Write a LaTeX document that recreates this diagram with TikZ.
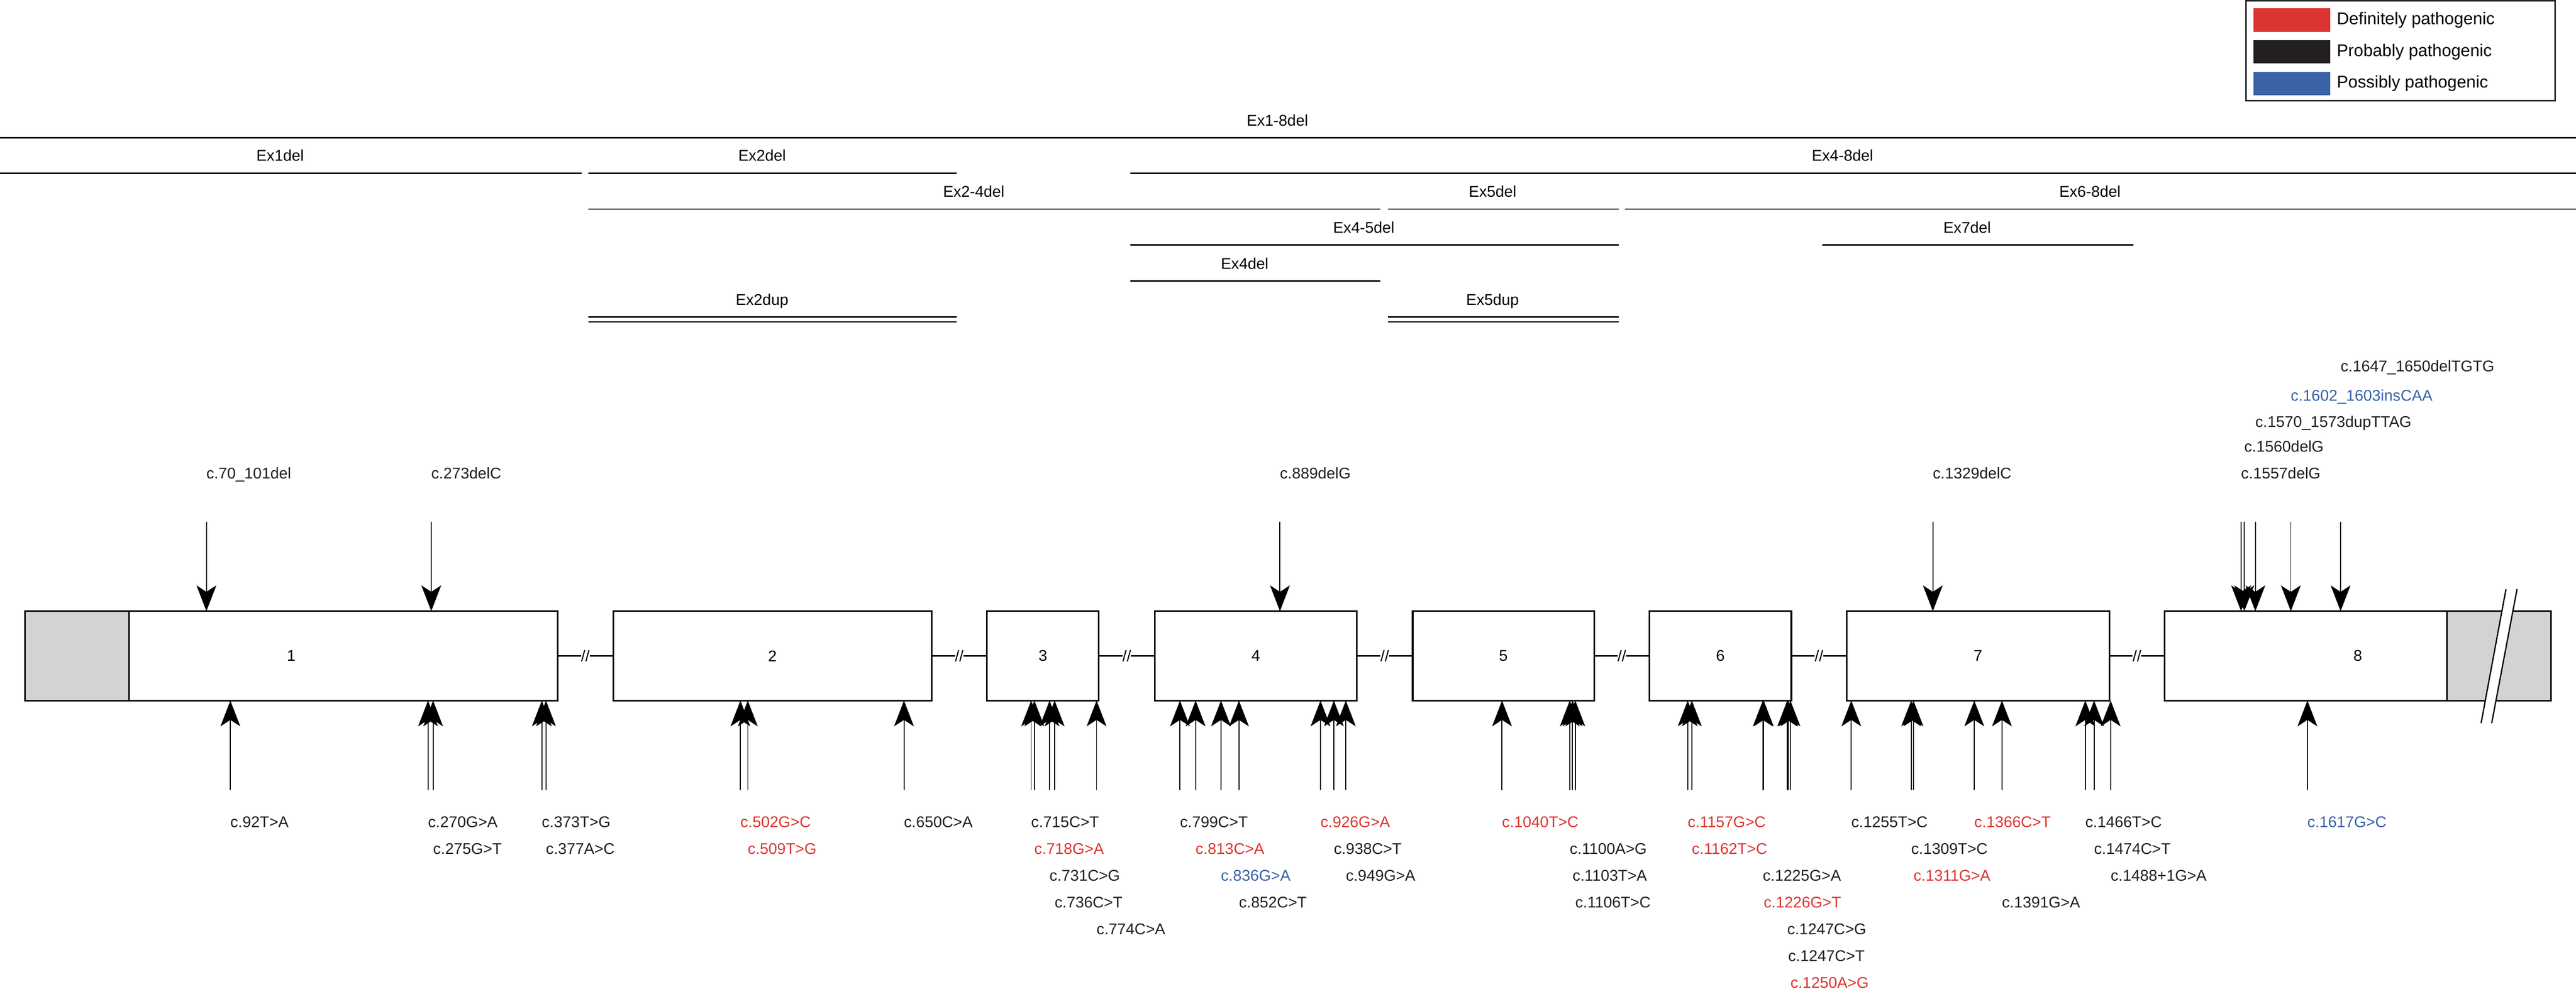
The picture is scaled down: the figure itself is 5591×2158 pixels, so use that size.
\documentclass[tikz,border=0pt]{standalone}
\usepackage{fontspec}
\setmainfont{Liberation Sans}
\usepackage{xcolor}
\usepackage{tikz}
\usetikzlibrary{arrows.meta}
\usetikzlibrary{positioning}
\definecolor{defpat}{HTML}{DD3531}
\definecolor{probpat}{HTML}{231F20}
\definecolor{posspat}{HTML}{3A62A6}
\definecolor{utrgris}{HTML}{D3D3D3}

\begin{document}
\begin{tikzpicture}[x=0.1mm, y=-0.1mm, every node/.style={inner sep=0pt, outer sep=0pt, font=\fontsize{9.6}{11}\selectfont},
	exon/.style={draw, line width=1pt, minimum height=19.4mm},
	utr/.style={draw, fill=utrgris, line width=1pt},
	mut/.style={line width=.6pt, -{Stealth[length=5.6mm, width=4.3mm, inset=1.4mm]}},
	cnv/.style={line width=.85pt},
	cnvtxt/.style={anchor=base, xshift=-2.3mm, yshift=2.6mm},
	corte/.style={fill=white},
	swatch/.style={minimum width=16.7mm, minimum height=5.1mm},
	legtxt/.style={font=\fontsize{10.5}{12}\selectfont}]
			\useasboundingbox (0,0) rectangle (5591,2158);
			
			%leyenda
			\node[draw=black!85, line width=1pt, minimum width=67.1mm, minimum height=21.7mm, anchor=north west] (leg) at (4875,2) {};
			\node[swatch, fill=defpat, anchor=north west] (sw1) at (4891,18) {};
			\node[swatch, fill=probpat, below=1.8mm of sw1] (sw2) {};
			\node[swatch, fill=posspat, below=1.8mm of sw2] (sw3) {};
			\node[legtxt, right=1.4mm of sw1] (lt1) {Definitely pathogenic};
			\node[legtxt, right=1.4mm of sw2] (lt2) {Probably pathogenic};
			\node[legtxt, right=1.4mm of sw3] (lt3) {Possibly pathogenic};
			
			%deleciones y duplicaciones
			\draw[cnv] (0,299) -- node[cnvtxt] {Ex1-8del} (5591,299);
			\draw[cnv] (0,376) -- node[cnvtxt] {Ex1del} (1262,376);
			\draw[cnv] (1277,376) -- node[cnvtxt] {Ex2del} (2077,376);
			\draw[cnv] (2453,376) -- node[cnvtxt] {Ex4-8del} (5591,376);
			\draw[cnv] (1277,454) -- node[cnvtxt] {Ex2-4del} (2996,454);
			\draw[cnv] (3012,454) -- node[cnvtxt] {Ex5del} (3513,454);
			\draw[cnv] (3527,454) -- node[cnvtxt] {Ex6-8del} (5591,454);
			\draw[cnv] (2453,532) -- node[cnvtxt] {Ex4-5del} (3513,532);
			\draw[cnv] (3955,532) -- node[cnvtxt] {Ex7del} (4630,532);
			\draw[cnv] (2453,610) -- node[cnvtxt] {Ex4del} (2996,610);
			\draw[cnv] (1277,688) -- node[cnvtxt] {Ex2dup} (2077,688);
			\draw[cnv] (1277,699) -- (2077,699);
			\draw[cnv] (3012,688) -- node[cnvtxt] {Ex5dup} (3513,688);
			\draw[cnv] (3012,699) -- (3513,699);
			
			%exones
			\node[exon, minimum width=115.6mm] (e1) at (632,1424) {1};
			\node[exon, minimum width=69.1mm] (e2) at (1676.5,1424) {2};
			\node[exon, minimum width=24.3mm] (e3) at (2263.5,1424) {3};
			\node[exon, minimum width=43.9mm] (e4) at (2725.5,1424) {4};
			\node[exon, minimum width=39.4mm] (e5) at (3263,1424) {5};
			\node[exon, minimum width=30.8mm] (e6) at (3734,1424) {6};
			\node[exon, minimum width=57mm] (e7) at (4293,1424) {7};
			\node[exon, minimum width=83.9mm] (e8) at (5117.5,1424) {8};
			\filldraw[utr] (e1.north west) rectangle ([xshift=22.6mm]e1.south west);
			\filldraw[utr] ([xshift=-22.6mm]e8.north east) rectangle (e8.south east);
			\fill[white] (5439,1279) -- (5463,1279) -- (5408,1570) -- (5385,1570) -- cycle;
			\draw[line width=.8pt] (5439,1279) -- (5385,1570) (5463,1279) -- (5408,1570);
			
			%intrones
			\foreach \a/\b in {e1/e2,e2/e3,e3/e4,e4/e5,e5/e6,e6/e7,e7/e8}
				\draw[line width=1pt] (\a) -- node[corte] {//} (\b);
			
			%mutaciones (arriba)
			\foreach \x/\e/\h/\c/\t [count=\i] in {448/e1/1039/probpat/c.70\_101del, 936/e1/1039/probpat/c.273delC,
				2778/e4/1039/probpat/c.889delG, 4195/e7/1039/probpat/c.1329delC,
				4864/e8/1039/probpat/c.1557delG, 4871/e8/981/probpat/c.1560delG, 4895/e8/927/probpat/c.1570\_1573dupTTAG,
				4972/e8/870/posspat/c.1602\_1603insCAA, 5080/e8/807/probpat/c.1647\_1650delTGTG}{
				\coordinate (a\i) at (\x,1133);
				\draw[mut] (a\i) -- (a\i |- \e.north);
				\node[anchor=base west, text=\c] (n\i) at (\x,\h) {\t};
			}
			
			%mutaciones (abajo)
			\foreach \x/\e/\r/\c/\t [count=\i] in {500/e1/1/probpat/c.92T>A, 929/e1/1/probpat/c.270G>A, 940/e1/2/probpat/c.275G>T,
				1176/e1/1/probpat/c.373T>G, 1185/e1/2/probpat/c.377A>C,
				1607/e2/1/defpat/c.502G>C, 1623/e2/2/defpat/c.509T>G, 1962/e2/1/probpat/c.650C>A,
				2238/e3/1/probpat/c.715C>T, 2245/e3/2/defpat/c.718G>A, 2278/e3/3/probpat/c.731C>G,
				2289/e3/4/probpat/c.736C>T, 2380/e3/5/probpat/c.774C>A,
				2561/e4/1/probpat/c.799C>T, 2595/e4/2/defpat/c.813C>A, 2650/e4/3/posspat/c.836G>A, 2689/e4/4/probpat/c.852C>T,
				2866/e4/1/defpat/c.926G>A, 2895/e4/2/probpat/c.938C>T, 2921/e4/3/probpat/c.949G>A,
				3260/e5/1/defpat/c.1040T>C, 3407/e5/2/probpat/c.1100A>G, 3413/e5/3/probpat/c.1103T>A, 3419/e5/4/probpat/c.1106T>C,
				3663/e6/1/defpat/c.1157G>C, 3672/e6/2/defpat/c.1162T>C, 3826/e6/3/probpat/c.1225G>A, 3828/e6/4/defpat/c.1226G>T,
				3879/e6/5/probpat/c.1247C>G, 3881/e6/6/probpat/c.1247C>T, 3886/e6/7/defpat/c.1250A>G,
				4018/e7/1/probpat/c.1255T>C, 4148/e7/2/probpat/c.1309T>C, 4153/e7/3/defpat/c.1311G>A,
				4285/e7/1/defpat/c.1366C>T, 4345/e7/4/probpat/c.1391G>A,
				4526/e7/1/probpat/c.1466T>C, 4545/e7/2/probpat/c.1474C>T, 4581/e7/3/probpat/c.1488+1G>A,
				5008/e8/1/posspat/c.1617G>C}{
				\coordinate (b\i) at (\x,1715);
				\draw[mut] (b\i) -- (b\i |- \e.south);
				\node[anchor=base west, text=\c] (m\i) at (\x,{1796+58.3*(\r-1)}) {\t};
			}
\end{tikzpicture}
\end{document}
